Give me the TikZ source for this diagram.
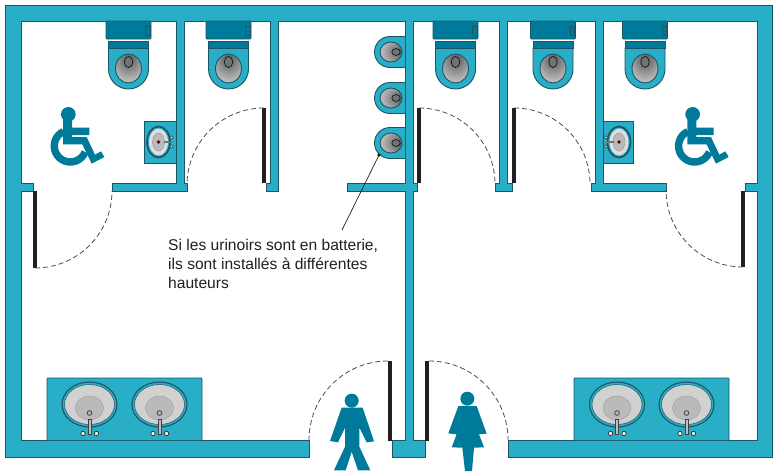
\documentclass[tikz,border=0pt]{standalone}
\usepackage{fontspec}
\setmainfont{Liberation Sans}
\definecolor{wallc}{HTML}{29AEC7}
\definecolor{edgec}{HTML}{1C5566}
\definecolor{deepc}{HTML}{007A9B}
\definecolor{barc}{HTML}{231F20}
\pgfdeclareradialshading{bowlshade}{\pgfpoint{0bp}{18bp}}{color(0bp)=(black!65);color(10bp)=(black!55);color(32bp)=(black!28);color(58bp)=(black!8);color(100bp)=(black!4)}
\pgfdeclareradialshading{urinalshade}{\pgfpoint{20bp}{0bp}}{color(0bp)=(black!65);color(10bp)=(black!55);color(32bp)=(black!30);color(62bp)=(black!8);color(100bp)=(black!4)}
\tikzset{
  wall/.style={fill=wallc,draw=edgec,line width=.8pt,line join=miter},
  tank/.style={fill=deepc,draw=edgec,line width=.8pt},
  fixture/.style={fill=wallc,draw=edgec,line width=.9pt},
  bowl/.style={shading=bowlshade,draw=edgec,line width=.9pt},
  urinalbowl/.style={shading=urinalshade,draw=edgec,line width=.9pt},
  plug/.style={fill=black!55,draw=black!70!edgec,line width=.7pt},
  doorbar/.style={fill=barc,draw=none},
  swing/.style={draw=black!70,line width=.8pt,dash pattern=on 5pt off 3pt},
  sign/.style={fill=deepc,draw=none},
  callout/.style={draw=barc,line width=.7pt}
}
\newcommand{\wctoilet}[1]{%
  \begin{scope}[shift={(#1,0)}]
    \draw[tank,rounded corners=1pt] (-22.5,21) rectangle (22.5,39);
    \draw[edgec,line width=.6pt] (17,26) rectangle (21.5,35);
    \draw[fixture] (-20,48) -- (20,48) -- (20,69) arc[start angle=0,end angle=180,radius=20] -- cycle;
    \draw[tank] (-20,41) rectangle (20,48);
    \path[bowl] (0,68.5) circle[x radius=13,y radius=14.5];
    \draw[plug] (0,62) circle[x radius=4.2,y radius=5.5];
  \end{scope}}
\newcommand{\urinal}[1]{%
  \begin{scope}[shift={(0,#1)}]
    \draw[fixture] (405,-15.5) -- (390,-15.5) arc[start angle=270,end angle=90,radius=15.5] -- (405,15.5);
    \path[urinalbowl] (391,0) circle[x radius=11,y radius=10];
    \draw[plug] (396,0) circle[x radius=4.2,y radius=3.4];
  \end{scope}}
\newcommand{\wcsink}[3]{% centre x, direction, reach to the wall
  \begin{scope}[shift={(#1,142)},xscale=#2]
    \draw[fixture] (-14.5,-21) -- (#3,-21) -- (#3,21) -- (-14.5,21) -- cycle;
    \draw[fill=wallc,draw=edgec,line width=1.7pt] (0,0) circle[x radius=11.5,y radius=15.5];
    \draw[fill=black!13,draw=none] (0,0) circle[x radius=9.5,y radius=13.5];
    \draw[fill=black!27,draw=black!40,line width=.5pt] (0,0) circle[x radius=6,y radius=9];
    \fill[black!65!red] (0,0) circle[radius=1.8];
    \draw[black!55,line width=1.5pt] (5,0) -- (13,0);
    \draw[fill=white,draw=black!70,line width=.6pt] (13,-4.5) circle[radius=1.6];
    \draw[fill=white,draw=black!70,line width=.6pt] (13,4.5) circle[radius=1.6];
  \end{scope}}
\newcommand{\bigsink}[1]{%
  \begin{scope}[shift={(#1,0)}]
    \draw[fill=wallc,draw=edgec,line width=1.1pt] (0,404.5) circle[x radius=27.5,y radius=22.5];
    \draw[fill=black!18,draw=edgec,line width=.5pt] (0,404.5) circle[x radius=25,y radius=20];
    \draw[fill=black!27,draw=black!36,line width=.5pt] (0,408) circle[x radius=14,y radius=12];
    \draw[fill=black!30,draw=black!75,line width=.7pt] (0,413) circle[radius=2.4];
    \draw[fill=black!25,draw=black!75,line width=.5pt] (-1.4,419) rectangle (1.4,434);
    \draw[fill=white,draw=black!80,line width=.8pt] (-6.5,433.5) circle[radius=2.2];
    \draw[fill=white,draw=black!80,line width=.8pt] (7,433.5) circle[radius=2.2];
  \end{scope}}
\newcommand{\wheelsign}[1]{%
  \begin{scope}[shift={(#1,0)},scale=1/3]
    \fill[sign] (205,343) circle[radius=22];
    \fill[sign] (189,345) -- (216,345) -- (216,383) -- (268,383) -- (268,405) -- (216,405) -- (216,411) -- (260,411) -- (285,464) -- (303,454) -- (313,471) -- (275,491) -- (247,433) -- (189,433) -- cycle;
    \draw[deepc,line width=7.4pt] (190.5,394.5) arc[start angle=245,end angle=22,radius=48];
  \end{scope}}
\begin{document}
\begin{tikzpicture}[x=1pt,y=-1pt]
\useasboundingbox (0,0) rectangle (778,474);
\fill[white] (0,0) rectangle (778,474);
% walls
\draw[wall] (309,440) -- (309,457) -- (5,457) -- (5,5) -- (772,5) -- (772,457) -- (508,457) -- (508,440) -- (757,440) -- (757,191) -- (745,191) -- (745,183) -- (757,183) -- (757,21) -- (603,21) -- (603,183) -- (666,183) -- (666,191) -- (591,191) -- (591,183) -- (595,183) -- (595,21) -- (507,21) -- (507,183) -- (512,183) -- (512,191) -- (495,191) -- (495,183) -- (499,183) -- (499,21) -- (413,21) -- (413,183) -- (417,183) -- (417,191) -- (413,191) -- (413,440) -- (425,440) -- (425,457) -- (392,457) -- (392,440) -- (405,440) -- (405,191) -- (347,191) -- (347,183) -- (405,183) -- (405,21) -- (278,21) -- (278,191) -- (266,191) -- (266,183) -- (270,183) -- (270,21) -- (184,21) -- (184,183) -- (187,183) -- (187,191) -- (112,191) -- (112,183) -- (176,183) -- (176,21) -- (21,21) -- (21,183) -- (33,183) -- (33,191) -- (21,191) -- (21,440) -- cycle;
% toilets
\wctoilet{128.5}\wctoilet{228.5}\wctoilet{455.5}\wctoilet{553}\wctoilet{645}
% urinals
\urinal{52}\urinal{98}\urinal{143}
% small sinks
\wcsink{158.5}{1}{17.5}\wcsink{619}{-1}{16}
% counters
\draw[fixture,rounded corners=1pt] (47,440) -- (47,378) -- (202,378) -- (202,440);
\draw[fixture,rounded corners=1pt] (574,440) -- (574,378) -- (729,378) -- (729,440);
\bigsink{89.5}\bigsink{159.5}\bigsink{617}\bigsink{686.5}
% doors
\fill[doorbar] (33,191) rectangle (37,268);
\draw[swing] (35,268) arc[start angle=90,end angle=0,radius=77];
\fill[doorbar] (262,108) rectangle (266,183);
\draw[swing] (264,108) arc[start angle=270,end angle=180,radius=77];
\fill[doorbar] (417,108) rectangle (421,183);
\draw[swing] (419,108) arc[start angle=270,end angle=360,radius=76];
\fill[doorbar] (512,108) rectangle (516,183);
\draw[swing] (514,108) arc[start angle=270,end angle=360,radius=76];
\fill[doorbar] (741,191) rectangle (745,267);
\draw[swing] (743,267) arc[start angle=90,end angle=180,radius=77];
\fill[doorbar] (388,361) rectangle (392,441);
\draw[swing] (388,361) arc[start angle=270,end angle=180,radius=79];
\fill[doorbar] (425,361) rectangle (429,441);
\draw[swing] (429,361) arc[start angle=270,end angle=360,radius=79];
% signs
\wheelsign{0}\wheelsign{624.3}
\begin{scope}[shift={(290,350)},scale=1/3]
  \fill[sign] (185,152) circle[radius=21];
  \fill[sign] (155,173) -- (218,173) -- (252,274) -- (230,277) -- (208,233) -- (208,290) -- (241,361) -- (204,361) -- (185,305) -- (167,361) -- (132,361) -- (165,290) -- (165,233) -- (144,277) -- (120,273) -- cycle;
  \fill[sign] (532,146) circle[radius=21];
  \fill[sign] (505,168) -- (560,168) -- (590,251) -- (565,253) -- (550,208) -- (582,292) -- (552,293) -- (546,363) -- (525,363) -- (517,293) -- (485,292) -- (517,208) -- (499,253) -- (475,250) -- cycle;
\end{scope}
% callout
\coordinate (tip) at (379,155);
\fill[barc] (tip) circle[radius=1.9];
\node[anchor=north west,align=left,inner sep=0pt,font=\fontsize{15.6}{19}\selectfont,text=barc] (note) at (168,238.5) {Si les urinoirs sont en batterie,\\ils sont installés à différentes\\hauteurs};
\coordinate (lead) at (342,230);
\draw[callout] (tip) -- (lead);
\end{tikzpicture}
\end{document}
